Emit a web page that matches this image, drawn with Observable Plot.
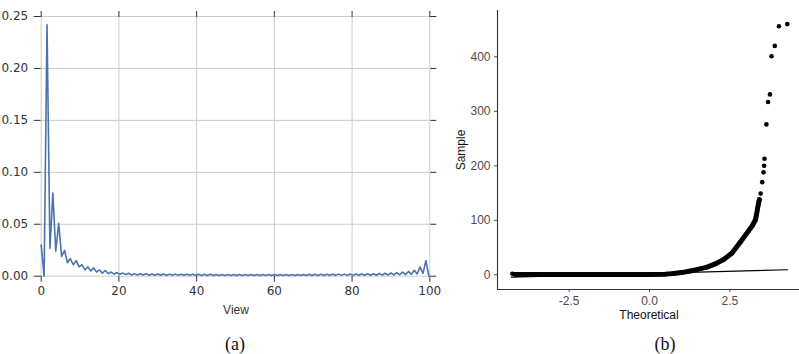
<!DOCTYPE html>
<html><head><meta charset="utf-8">
<script src="https://cdn.jsdelivr.net/npm/d3@7"></script>
<script src="https://cdn.jsdelivr.net/npm/@observablehq/plot@0.6"></script>
<style>
body{margin:0;background:#fff;}
#wrap{position:relative;width:799px;height:354px;overflow:hidden;background:#fff;}
#wrap svg{position:absolute;top:0;}
.lbl{position:absolute;white-space:nowrap;transform:translate(-50%,-50%);line-height:1;}
</style></head><body><div id="wrap"></div>
<script>
// ---- panel (a): spectrum vs View ----
const viewStep = 0.75;
const spectrum = [
0.030,0.000,0.242,0.027,0.080,0.024,0.051,0.019,0.025,0.013,
0.017,0.011,0.015,0.009,0.011,0.006,0.009,0.005,0.008,0.004,
0.006,0.003,0.0055,0.0025,0.004,0.002,0.0035,0.0018,0.003,0.0015,
0.0028,0.0012,0.0025,0.0012,
0.0024,0.0011,0.0023,0.0010,0.0022,0.0010,0.0022,0.0009,0.0021,0.0009,
0.0020,0.0009,0.0020,0.0008,0.0019,0.0008,0.0019,0.0008,0.0019,0.0008,
0.0018,0.0007,0.0018,0.0007,0.0018,0.0007,0.0017,0.0007,0.0017,0.0007,
0.0017,0.0007,0.0017,0.0006,0.0017,0.0006,0.0016,0.0006,0.0016,0.0006,
0.0016,0.0006,0.0016,0.0006,0.0016,0.0006,0.0016,0.0006,0.0016,0.0006,
0.0016,0.0006,0.0017,0.0006,0.0017,0.0007,0.0017,0.0007,0.0018,0.0007,
0.0018,0.0007,0.0018,0.0007,0.0019,0.0008,0.0019,0.0008,0.0020,0.0008,
0.0020,0.0008,0.0021,0.0008,0.0021,0.0009,0.0022,0.0009,0.0023,0.0009,
0.0024,0.0009,0.0026,0.0010,0.0028,0.0011,0.0031,0.0012,0.0034,0.0014,
0.0039,0.0015,0.0046,0.0018,0.0057,0.0022,0.0088,0.0027,0.0150,0.0000
];
const viewTicks = [0, 20, 40, 60, 80, 100];
const specTicks = [0, 0.05, 0.10, 0.15, 0.20, 0.25];

// ---- panel (b): Q-Q plot ----
const qqTheo   = [-4.27,-4.17,-3.8,-3.0,-2.0,-1.0,0.0,0.5,0.75,1.0,1.27,1.5,1.79,2.05,2.31,2.57,2.83,3.09,3.2,3.3,3.33,3.36,3.39,3.42,3.46,3.51,3.55,3.57,3.58,3.64,3.69,3.75,3.80,3.90,4.03,4.29];
const qqSample = [1.8,0.3,0.3,0.4,0.4,0.5,0.7,1.2,2.4,4.0,7,10,14,20,28,40,60,81,90,101,110,120,130,138,149,170,188,200,213,276,317,331,401,420,456,460];
const fitTheo = [-4.3, 4.3];
const fitSample = [-4.4, 9.2];
const theoTicks = [-2.5, 0, 2.5];
const sampleTicks = [0, 100, 200, 300, 400];

const specData = spectrum.map((v, i) => ({view: i * viewStep, value: v}));
const qqData = qqTheo.map((t, i) => ({t, s: qqSample[i]}));
const denseData = qqData.slice(1, 24);
const fitData = fitTheo.map((t, i) => ({t, s: fitSample[i]}));

const wrap = document.getElementById("wrap");

const left = Plot.plot({
  width: 445, height: 300,
  marginLeft: 40.7, marginRight: 15.7, marginTop: 16, marginBottom: 24.3,
  x: {domain: [0, 100]},
  y: {domain: [0, 0.25]},
  style: {fontFamily: "DejaVu Sans", fontSize: "12px", color: "#333", background: "transparent", overflow: "visible"},
  marks: [
    Plot.gridX(viewTicks, {stroke: "#cccccc", strokeOpacity: 1, strokeWidth: 1}),
    Plot.gridY(specTicks, {stroke: "#cccccc", strokeOpacity: 1, strokeWidth: 1}),
    Plot.axisX(viewTicks, {anchor: "bottom", tickSize: 6, tickPadding: 4, tickFormat: d => String(d), label: null}),
    Plot.axisX(viewTicks, {anchor: "top", tickSize: 6, tickFormat: () => "", label: null}),
    Plot.axisY(specTicks, {anchor: "left", tickSize: 7, tickPadding: 6, tickFormat: d => d.toFixed(2), label: null}),
    Plot.axisY(specTicks, {anchor: "right", tickSize: 6, tickFormat: () => "", label: null}),
    Plot.line(specData, {x: "view", y: "value", stroke: "#4c72b0", strokeWidth: 1.6})
  ]
});
left.style.left = "0px";
wrap.appendChild(left);

const right = Plot.plot({
  width: 354, height: 354,
  marginLeft: 52, marginRight: 0, marginTop: 10, marginBottom: 65,
  x: {domain: [-4.732, 4.67]},
  y: {domain: [-27, 485]},
  style: {fontFamily: "Liberation Sans", fontSize: "12px", color: "#4d4d4d", background: "transparent", overflow: "visible"},
  marks: [
    Plot.axisX(theoTicks, {tickSize: 3, tickPadding: 4, tickFormat: d => d.toFixed(1), label: null}),
    Plot.axisY(sampleTicks, {tickSize: 3, tickPadding: 4, tickFormat: d => String(d), label: null}),
    Plot.ruleX([-4.732], {stroke: "#333", strokeWidth: 1.1}),
    Plot.ruleY([-27], {stroke: "#333", strokeWidth: 1.1}),
    Plot.line(denseData, {x: "t", y: "s", stroke: "black", strokeWidth: 5, strokeLinecap: "round", strokeLinejoin: "round"}),
    Plot.dot(qqData, {x: "t", y: "s", r: 2.3, fill: "black", stroke: "none"}),
    Plot.line(fitData, {x: "t", y: "s", stroke: "black", strokeWidth: 1.2})
  ]
});
right.style.left = "445px";
wrap.appendChild(right);

function label(text, x, y, opts = {}) {
  const d = document.createElement("div");
  d.className = "lbl";
  d.textContent = text;
  d.style.left = x + "px";
  d.style.top = y + "px";
  d.style.fontFamily = opts.font || "Liberation Sans";
  d.style.fontSize = (opts.size || 12) + "px";
  d.style.color = opts.color || "#222";
  if (opts.rotate) d.style.transform = "translate(-50%,-50%) rotate(-90deg)";
  wrap.appendChild(d);
}
label("View", 236, 310, {color: "#333"});
label("Theoretical", 649, 315, {color: "#111"});
label("Sample", 461, 150, {color: "#111", rotate: true});
label("(a)", 235, 344, {font: "Liberation Serif", size: 18, color: "#111"});
label("(b)", 665, 344, {font: "Liberation Serif", size: 18, color: "#111"});
</script></body></html>
